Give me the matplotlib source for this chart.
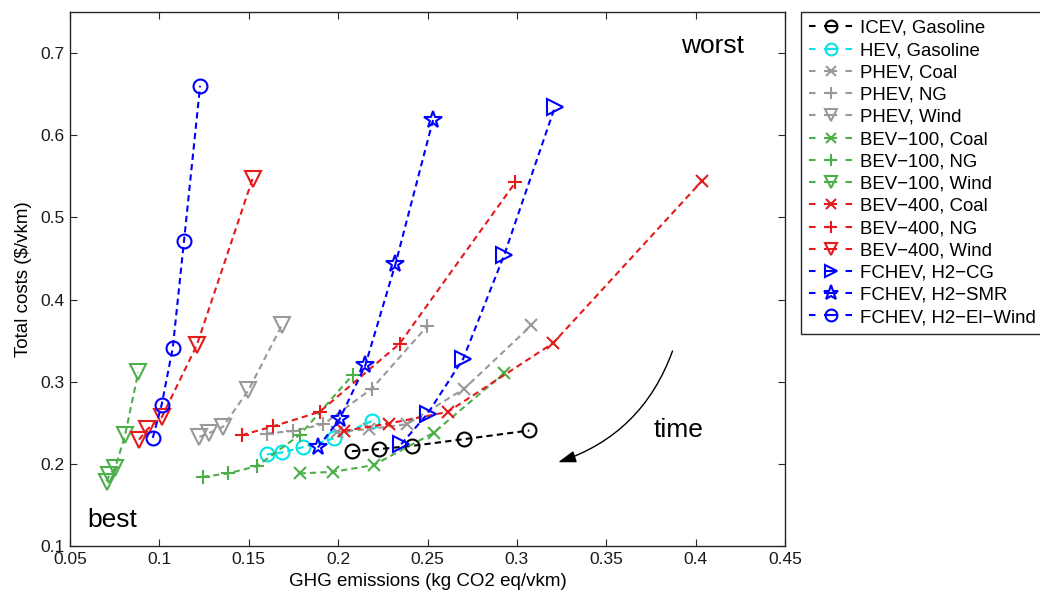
import matplotlib
matplotlib.use("Agg")
import matplotlib.pyplot as plt
from matplotlib.patches import FancyArrowPatch
from matplotlib.lines import Line2D

plt.rcParams['font.family'] = ['Liberation Sans', 'DejaVu Sans']
plt.rcParams['lines.scale_dashes'] = False

# ---- data (GHG kg CO2 eq/vkm, total cost $/vkm) ----
icev_gas_x = [0.2077, 0.2226, 0.2415, 0.2702, 0.3070]
icev_gas_y = [0.2154, 0.2179, 0.2219, 0.2300, 0.2406]

hev_gas_x = [0.1601, 0.1685, 0.1803, 0.1975, 0.2190]
hev_gas_y = [0.2114, 0.2139, 0.2203, 0.2309, 0.2523]

phev_coal_x = [0.1993, 0.2174, 0.2385, 0.2706, 0.3081]
phev_coal_y = [0.2390, 0.2424, 0.2482, 0.2916, 0.3685]

phev_ng_x = [0.1601, 0.1747, 0.1918, 0.2189, 0.2497]
phev_ng_y = [0.2369, 0.2401, 0.2482, 0.2916, 0.3673]

phev_wind_x = [0.1224, 0.1280, 0.1355, 0.1498, 0.1685]
phev_wind_y = [0.2328, 0.2377, 0.2450, 0.2896, 0.3685]

bev100_coal_x = [0.1784, 0.1971, 0.2198, 0.2534, 0.2930]
bev100_coal_y = [0.1883, 0.1903, 0.1984, 0.2377, 0.3106]

bev100_ng_x = [0.1243, 0.1383, 0.1545, 0.1788, 0.2083]
bev100_ng_y = [0.1842, 0.1883, 0.1972, 0.2357, 0.3086]

bev100_wind_x = [0.0705, 0.0720, 0.0752, 0.0808, 0.0882]
bev100_wind_y = [0.1784, 0.1863, 0.1944, 0.2349, 0.3118]

bev400_coal_x = [0.2034, 0.2282, 0.2613, 0.3203, 0.4037]
bev400_coal_y = [0.2401, 0.2491, 0.2632, 0.3470, 0.5447]

bev400_ng_x = [0.1461, 0.1638, 0.1896, 0.2344, 0.2992]
bev400_ng_y = [0.2349, 0.2458, 0.2632, 0.3463, 0.5427]

bev400_wind_x = [0.0886, 0.0933, 0.1013, 0.1209, 0.1521]
bev400_wind_y = [0.2294, 0.2422, 0.2567, 0.3442, 0.5468]

fc_cg_x = [0.2353, 0.2501, 0.2700, 0.2930, 0.3212]
fc_cg_y = [0.2239, 0.2612, 0.3280, 0.4548, 0.6338]

fc_smr_x = [0.1887, 0.2008, 0.2152, 0.2320, 0.2531]
fc_smr_y = [0.2199, 0.2543, 0.3199, 0.4427, 0.6185]

fc_elw_x = [0.0963, 0.1013, 0.1075, 0.1138, 0.1228]
fc_elw_y = [0.2316, 0.2722, 0.3414, 0.4718, 0.6601]

labels = ['ICEV, Gasoline', 'HEV, Gasoline', 'PHEV, Coal', 'PHEV, NG', 'PHEV, Wind',
          'BEV\u2212100, Coal', 'BEV\u2212100, NG', 'BEV\u2212100, Wind',
          'BEV\u2212400, Coal', 'BEV\u2212400, NG', 'BEV\u2212400, Wind',
          'FCHEV, H2\u2212CG', 'FCHEV, H2\u2212SMR', 'FCHEV, H2\u2212El\u2212Wind']

xticks = [0.05, 0.1, 0.15, 0.2, 0.25, 0.3, 0.35, 0.4, 0.45]
xticklabels = ['0.05', '0.1', '0.15', '0.2', '0.25', '0.3', '0.35', '0.4', '0.45']
yticks = [0.1, 0.2, 0.3, 0.4, 0.5, 0.6, 0.7]
yticklabels = ['0.1', '0.2', '0.3', '0.4', '0.5', '0.6', '0.7']

BLACK = '#000000'
CYAN = '#00e6e6'
GRAY = '#999999'
GREEN = '#4daf4a'
RED = '#e41a1c'
BLUE = '#0000ff'

series = [
    (icev_gas_x, icev_gas_y, BLACK, 'o', 10),
    (hev_gas_x, hev_gas_y, CYAN, 'o', 10),
    (phev_coal_x, phev_coal_y, GRAY, 'x', 8),
    (phev_ng_x, phev_ng_y, GRAY, '+', 10),
    (phev_wind_x, phev_wind_y, GRAY, 'v', 11),
    (bev100_coal_x, bev100_coal_y, GREEN, 'x', 8),
    (bev100_ng_x, bev100_ng_y, GREEN, '+', 10),
    (bev100_wind_x, bev100_wind_y, GREEN, 'v', 11),
    (bev400_coal_x, bev400_coal_y, RED, 'x', 8),
    (bev400_ng_x, bev400_ng_y, RED, '+', 10),
    (bev400_wind_x, bev400_wind_y, RED, 'v', 11),
    (fc_cg_x, fc_cg_y, BLUE, '>', 11),
    (fc_smr_x, fc_smr_y, BLUE, '*', 13),
    (fc_elw_x, fc_elw_y, BLUE, 'o', 10),
]

fig = plt.figure(figsize=(10.4, 5.96), dpi=100)
ax = fig.add_axes([70/1040, 50/596, 715/1040, 534/596])

handles = []
for (xs, ys, c, m, ms), lab in zip(series, labels):
    ax.plot(xs, ys, linestyle='--', dashes=(4.5, 3.0), color=c, lw=1.5,
            marker=m, ms=ms, mfc='none', mec=c, mew=1.5)
    handles.append(Line2D([], [], linestyle='--', dashes=(4.7, 6.1, 9.4, 6.1),
                          color=c, lw=1.5, marker=m, ms=ms * 0.85, mfc='none',
                          mec=c, mew=1.5))

ax.set_xlim(0.05, 0.45)
ax.set_ylim(0.1, 0.75)
ax.set_xticks(xticks)
ax.set_xticklabels(xticklabels)
ax.set_yticks(yticks)
ax.set_yticklabels(yticklabels)
ax.tick_params(direction='in', top=True, right=True, length=5, width=0.8,
               labelsize=12.5, pad=4, colors='#262626', labelcolor='#1a1a1a')
for sp in ax.spines.values():
    sp.set_linewidth(1.0)
    sp.set_color('#262626')

ax.set_xlabel('GHG emissions (kg CO2 eq/vkm)', fontsize=13.5, labelpad=5)
ax.set_ylabel('Total costs ($/vkm)', fontsize=13.5, labelpad=6)

ax.text(0.4095, 0.709, 'worst', fontsize=19, ha='center', va='center')
ax.text(0.0735, 0.132, 'best', fontsize=19, ha='center', va='center')
ax.text(0.3904, 0.241, 'time', fontsize=19, ha='center', va='center')

arrow = FancyArrowPatch((0.3876, 0.3406), (0.3216, 0.2009),
                        connectionstyle='arc3,rad=-0.25',
                        arrowstyle='-|>,head_length=0.9,head_width=0.3',
                        mutation_scale=12, color='black', lw=1.0)
ax.add_patch(arrow)

leg = ax.legend(handles, labels, loc='upper left',
                bbox_to_anchor=(800.5/1040, 1 - 11.5/596),
                bbox_transform=fig.transFigure, fontsize=13.4, numpoints=1,
                handlelength=2.42, handletextpad=0.32, labelspacing=0.28,
                borderpad=0.45, borderaxespad=0, fancybox=False, framealpha=1)
leg.get_frame().set_edgecolor('#262626')
leg.get_frame().set_linewidth(1.0)

fig.savefig('out.png', dpi=100)
